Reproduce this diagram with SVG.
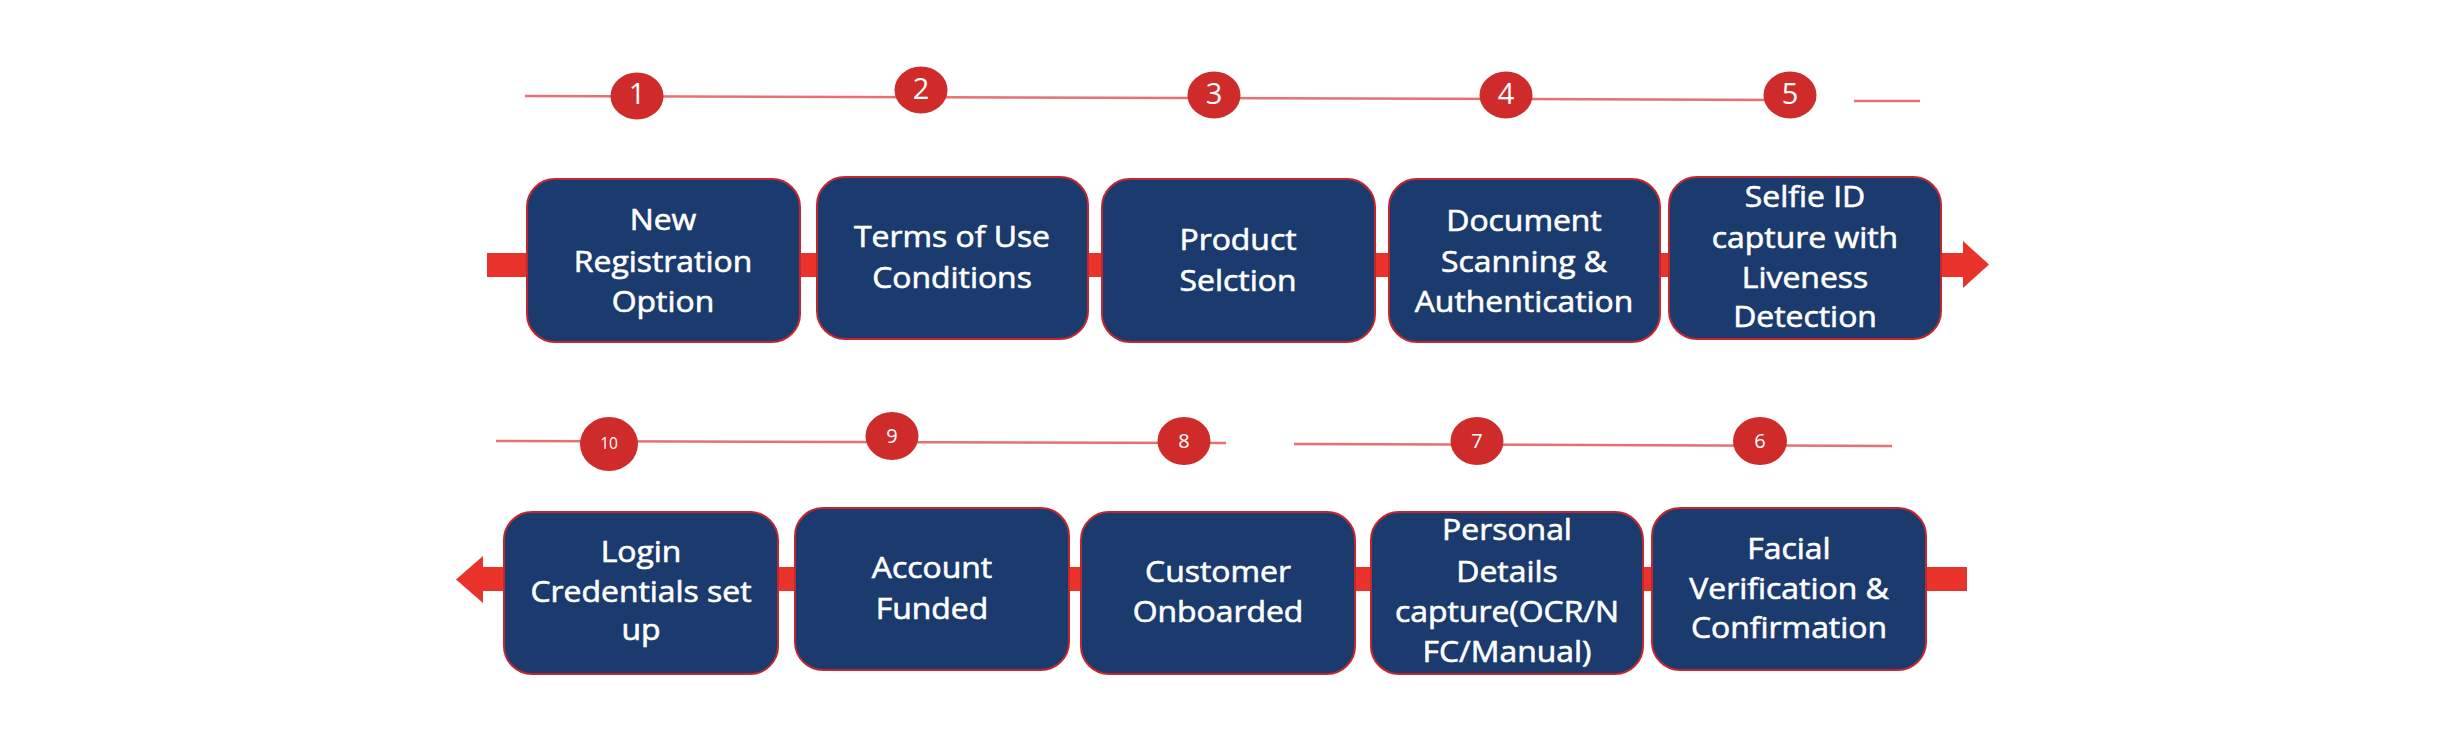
<svg xmlns="http://www.w3.org/2000/svg" width="2453" height="743" viewBox="0 0 2453 743">
<style>
.box{fill:#1b3a6d;stroke:#c0282e;stroke-width:2}
.lbl text{font-family:"Open Sans","Liberation Sans",sans-serif;font-size:29px;fill:#ffffff;stroke:#ffffff;stroke-width:0.6;text-anchor:middle}
.band{fill:#e8322a}
.tl{stroke:#e0585c;stroke-width:2.5;fill:none;stroke-opacity:0.85}
.dot{fill:#cf2b2b}
.num{font-family:"Open Sans","Liberation Sans",sans-serif;fill:#ffffff;text-anchor:middle}
</style>
<rect width="2453" height="743" fill="#ffffff"/>
<g id="connectors">
<path class="band" d="M487 253 H1963 V241 L1989 264.5 L1963 288 V277 H487 Z"/>
<path class="band" d="M1967 567 H483 V556 L456 579.5 L483 603 V591 H1967 Z"/>
<line class="tl" x1="525" y1="96" x2="1816" y2="100"/>
<line class="tl" x1="1854" y1="101" x2="1920" y2="101" stroke-opacity="0.5"/>
<line class="tl" x1="496" y1="441" x2="1226" y2="443"/>
<line class="tl" x1="1294" y1="444" x2="1892" y2="446"/>
</g>
<g id="step1"><ellipse class="dot" cx="637" cy="96" rx="26.5" ry="23.5"/><text class="num" x="637" y="104" font-size="29">1</text></g>
<g id="step2"><ellipse class="dot" cx="921" cy="90" rx="26.5" ry="23.5"/><text class="num" x="921" y="99" font-size="29">2</text></g>
<g id="step3"><ellipse class="dot" cx="1214" cy="95" rx="26.5" ry="23.5"/><text class="num" x="1214" y="104" font-size="29">3</text></g>
<g id="step4"><ellipse class="dot" cx="1506" cy="95" rx="26.5" ry="23.5"/><text class="num" x="1506" y="104" font-size="29">4</text></g>
<g id="step5"><ellipse class="dot" cx="1790" cy="95" rx="26.5" ry="23.5"/><text class="num" x="1790" y="104" font-size="29">5</text></g>
<g id="step10"><ellipse class="dot" cx="609" cy="444" rx="29" ry="27"/><text class="num" x="609" y="449" font-size="15.5">10</text></g>
<g id="step9"><ellipse class="dot" cx="892" cy="436" rx="26.5" ry="24"/><text class="num" x="892" y="443" font-size="20">9</text></g>
<g id="step8"><ellipse class="dot" cx="1184" cy="441" rx="26.5" ry="24"/><text class="num" x="1184" y="448" font-size="20">8</text></g>
<g id="step7"><ellipse class="dot" cx="1477" cy="441" rx="26.5" ry="24"/><text class="num" x="1477" y="448" font-size="20">7</text></g>
<g id="step6"><ellipse class="dot" cx="1760" cy="441" rx="27" ry="24"/><text class="num" x="1760" y="448" font-size="20">6</text></g>
<g id="node1"><rect class="box" x="527" y="179" width="273" height="163" rx="28"/>
<g class="lbl" transform="translate(663 0) scale(1.1 1)"><text y="230">New</text><text y="272">Registration</text><text y="312">Option</text></g></g>
<g id="node2"><rect class="box" x="817" y="177" width="271" height="162" rx="28"/>
<g class="lbl" transform="translate(952 0) scale(1.1 1)"><text y="247">Terms of Use</text><text y="288">Conditions</text></g></g>
<g id="node3"><rect class="box" x="1102" y="179" width="273" height="163" rx="28"/>
<g class="lbl" transform="translate(1238 0) scale(1.1 1)"><text y="250">Product</text><text y="291">Selction</text></g></g>
<g id="node4"><rect class="box" x="1389" y="179" width="271" height="163" rx="28"/>
<g class="lbl" transform="translate(1524 0) scale(1.1 1)"><text y="231">Document</text><text y="272">Scanning &amp;</text><text y="312">Authentication</text></g></g>
<g id="node5"><rect class="box" x="1669" y="177" width="272" height="162" rx="28"/>
<g class="lbl" transform="translate(1805 0) scale(1.1 1)"><text y="207">Selfie ID</text><text y="248">capture with</text><text y="288">Liveness</text><text y="327">Detection</text></g></g>
<g id="node6"><rect class="box" x="1652" y="508" width="274" height="162" rx="28"/>
<g class="lbl" transform="translate(1789 0) scale(1.1 1)"><text y="559">Facial</text><text y="599">Verification &amp;</text><text y="638">Confirmation</text></g></g>
<g id="node7"><rect class="box" x="1371" y="512" width="272" height="162" rx="28"/>
<g class="lbl" transform="translate(1507 0) scale(1.1 1)"><text y="540">Personal</text><text y="582">Details</text><text y="622">capture(OCR/N</text><text y="662">FC/Manual)</text></g></g>
<g id="node8"><rect class="box" x="1081" y="512" width="274" height="162" rx="28"/>
<g class="lbl" transform="translate(1218 0) scale(1.1 1)"><text y="582">Customer</text><text y="622">Onboarded</text></g></g>
<g id="node9"><rect class="box" x="795" y="508" width="274" height="162" rx="28"/>
<g class="lbl" transform="translate(932 0) scale(1.1 1)"><text y="578">Account</text><text y="619">Funded</text></g></g>
<g id="node10"><rect class="box" x="504" y="512" width="274" height="162" rx="28"/>
<g class="lbl" transform="translate(641 0) scale(1.1 1)"><text y="562">Login</text><text y="602">Credentials set</text><text y="640">up</text></g></g>
</svg>
